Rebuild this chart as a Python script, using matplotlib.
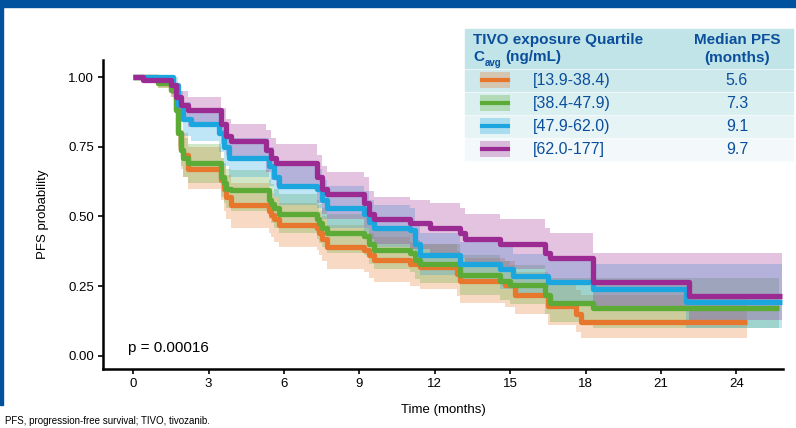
import matplotlib
matplotlib.use("Agg")
from matplotlib import pyplot as plt
from matplotlib.patches import Rectangle
from matplotlib.lines import Line2D

plt.rcParams['font.family'] = ['Liberation Sans', 'DejaVu Sans']

# quartile groups (time in months, PFS probability, 95% CI)
t_q1 = [0, 1.0, 1.5, 1.7, 1.8, 1.9, 2.0, 2.2, 3.5, 3.6, 3.7, 3.9, 5.4, 5.5, 5.6, 5.8, 7.3, 7.4, 7.5, 7.7,
        9.2, 9.4, 9.6, 11.0, 11.4, 12.9, 13.0, 14.8, 15.2, 16.5, 17.6, 17.8, 24.4]
s_q1 = [1.0, 0.98, 0.955, 0.88, 0.80, 0.74, 0.72, 0.67, 0.63, 0.60, 0.57, 0.54, 0.52, 0.505, 0.49, 0.47,
        0.46, 0.44, 0.42, 0.39, 0.38, 0.36, 0.345, 0.33, 0.32, 0.295, 0.27, 0.255, 0.22, 0.18, 0.15, 0.12, 0.12]
lo_q1 = [1.0, 0.96, 0.93, 0.84, 0.74, 0.67, 0.64, 0.60, 0.56, 0.52, 0.49, 0.46, 0.44, 0.425, 0.41, 0.39,
         0.38, 0.36, 0.34, 0.31, 0.30, 0.28, 0.265, 0.25, 0.24, 0.215, 0.19, 0.175, 0.15, 0.11, 0.085, 0.065,
         0.065]
hi_q1 = [1.0, 1.0, 0.98, 0.93, 0.87, 0.81, 0.80, 0.75, 0.71, 0.68, 0.65, 0.62, 0.60, 0.585, 0.57, 0.55,
         0.54, 0.52, 0.50, 0.47, 0.46, 0.44, 0.425, 0.41, 0.40, 0.375, 0.35, 0.34, 0.30, 0.26, 0.235, 0.22, 0.22]

t_q2 = [0, 1.0, 1.5, 1.7, 1.8, 1.9, 2.0, 2.2, 3.5, 3.6, 3.7, 3.9, 5.4, 5.5, 5.6, 5.8, 7.3, 7.4, 7.5, 7.7,
        9.2, 9.4, 9.6, 11.0, 11.2, 11.4, 13.0, 14.6, 15.0, 16.4, 16.6, 18.3, 25.7]
s_q2 = [1.0, 0.98, 0.955, 0.88, 0.80, 0.74, 0.71, 0.69, 0.64, 0.62, 0.60, 0.595, 0.56, 0.545, 0.53, 0.51,
        0.49, 0.475, 0.46, 0.44, 0.43, 0.40, 0.38, 0.37, 0.345, 0.33, 0.29, 0.27, 0.255, 0.22, 0.19, 0.17, 0.17]
lo_q2 = [1.0, 0.96, 0.93, 0.84, 0.75, 0.68, 0.64, 0.62, 0.57, 0.55, 0.53, 0.52, 0.49, 0.475, 0.46, 0.44,
         0.42, 0.405, 0.39, 0.37, 0.36, 0.33, 0.31, 0.30, 0.275, 0.26, 0.22, 0.20, 0.185, 0.15, 0.12, 0.10, 0.10]
hi_q2 = [1.0, 1.0, 0.98, 0.93, 0.86, 0.81, 0.78, 0.76, 0.71, 0.69, 0.67, 0.665, 0.63, 0.615, 0.60, 0.58,
         0.56, 0.545, 0.53, 0.51, 0.50, 0.47, 0.45, 0.44, 0.415, 0.40, 0.36, 0.34, 0.325, 0.29, 0.28, 0.28, 0.28]

t_q3 = [0, 1.6, 1.8, 2.0, 2.3, 3.4, 3.6, 3.8, 5.4, 5.6, 5.8, 7.3, 7.5, 7.7, 9.2, 9.4, 9.6, 11.0, 11.2, 11.4,
        13.0, 14.6, 15.1, 16.5, 18.3, 22.0, 25.8]
s_q3 = [1.0, 0.97, 0.90, 0.85, 0.83, 0.80, 0.75, 0.71, 0.68, 0.64, 0.61, 0.60, 0.56, 0.53, 0.51, 0.48, 0.46,
        0.45, 0.40, 0.36, 0.33, 0.31, 0.285, 0.265, 0.24, 0.195, 0.195]
lo_q3 = [1.0, 0.94, 0.85, 0.79, 0.77, 0.73, 0.68, 0.64, 0.61, 0.57, 0.54, 0.53, 0.49, 0.46, 0.44, 0.41, 0.39,
         0.38, 0.33, 0.29, 0.26, 0.24, 0.215, 0.19, 0.16, 0.10, 0.10]
hi_q3 = [1.0, 1.0, 0.95, 0.91, 0.89, 0.87, 0.82, 0.78, 0.75, 0.71, 0.68, 0.67, 0.63, 0.61, 0.59, 0.56, 0.54,
         0.53, 0.48, 0.44, 0.41, 0.39, 0.365, 0.35, 0.33, 0.33, 0.33]

t_q4 = [0, 0.4, 1.5, 1.7, 1.9, 2.2, 3.5, 3.7, 3.9, 5.3, 5.5, 5.7, 7.3, 7.5, 7.7, 9.2, 9.4, 9.6, 11.0, 11.8,
        13.0, 13.2, 14.6, 16.4, 16.6, 18.3, 22.1, 25.8]
s_q4 = [1.0, 0.99, 0.97, 0.93, 0.90, 0.88, 0.83, 0.79, 0.77, 0.74, 0.71, 0.69, 0.64, 0.60, 0.58, 0.55, 0.51,
        0.49, 0.475, 0.46, 0.44, 0.42, 0.40, 0.37, 0.35, 0.265, 0.215, 0.215]
lo_q4 = [1.0, 0.98, 0.94, 0.88, 0.84, 0.82, 0.76, 0.72, 0.70, 0.66, 0.63, 0.61, 0.55, 0.51, 0.49, 0.46, 0.42,
         0.40, 0.385, 0.37, 0.35, 0.33, 0.31, 0.28, 0.26, 0.18, 0.13, 0.13]
hi_q4 = [1.0, 1.0, 0.99, 0.97, 0.95, 0.93, 0.89, 0.85, 0.83, 0.81, 0.78, 0.76, 0.72, 0.68, 0.66, 0.64, 0.59,
         0.57, 0.56, 0.55, 0.53, 0.51, 0.49, 0.46, 0.44, 0.37, 0.37, 0.37]

quartiles = ['[13.9-38.4)', '[38.4-47.9)', '[47.9-62.0)', '[62.0-177]']
medians = ['5.6', '7.3', '9.1', '9.7']
colors = ['#e8772e', '#5bab36', '#1ca6df', '#9b2a92']

groups = [(t_q1, s_q1, lo_q1, hi_q1), (t_q2, s_q2, lo_q2, hi_q2),
          (t_q3, s_q3, lo_q3, hi_q3), (t_q4, s_q4, lo_q4, hi_q4)]

W, H = 796, 428
fig = plt.figure(figsize=(W / 100, H / 100), dpi=100)


def fx(px):
    return px / W


def fy(py):
    return 1 - py / H


# blue frame
fig.patches.append(Rectangle((0, fy(7)), 1, 7 / H, transform=fig.transFigure, color='#00529f', zorder=0))
fig.patches.append(Rectangle((0, fy(405)), fx(3), fy(7) - fy(405), transform=fig.transFigure,
                             color='#00529f', zorder=0))

ax = fig.add_axes([fx(103), fy(369), fx(783) - fx(103), fy(60) - fy(369)])
for (t, s, lo, hi), c in zip(groups, colors):
    ax.fill_between(t, lo, hi, step='post', color=c, alpha=0.28, lw=0)
for (t, s, lo, hi), c in zip(groups, colors):
    ax.step(t, s, where='post', color=c, lw=3.8, solid_joinstyle='round', solid_capstyle='butt')

ax.set_xlim(-1.2, 25.85)
ax.set_ylim(-0.047, 1.061)
ax.set_xticks(range(0, 25, 3))
ax.set_yticks([0, 0.25, 0.5, 0.75, 1.0])
ax.set_yticklabels(['0.00', '0.25', '0.50', '0.75', '1.00'])
for side in ['top', 'right']:
    ax.spines[side].set_visible(False)
for side in ['left', 'bottom']:
    ax.spines[side].set_linewidth(1.8)
ax.tick_params(length=3.5, width=1.2, labelsize=9.5, pad=3)
ax.set_xlabel('Time (months)', fontsize=9.5, labelpad=10)
ax.set_ylabel('PFS probability', fontsize=9.5, labelpad=14)
ax.text(-0.2, 0.015, 'p = 0.00016', fontsize=11)

# legend table
tc = '#0b4f9c'
fig.patches.append(Rectangle((fx(465), fy(68)), fx(793) - fx(465), fy(29) - fy(68),
                             transform=fig.transFigure, color='#c0e4e7', zorder=1))
row_bg = ['#cde9eb', '#d9eff0', '#e6f4f5', '#f3f9fa']
row_top = [70, 93, 116, 139]
for i in range(4):
    y0 = row_top[i]
    fig.patches.append(Rectangle((fx(465), fy(y0 + 21)), fx(793) - fx(465), 21 / H,
                                 transform=fig.transFigure, color=row_bg[i], zorder=1))
    fig.patches.append(Rectangle((fx(480), fy(y0 + 18)), 30 / W, 16 / H, transform=fig.transFigure,
                                 color=colors[i], alpha=0.3, lw=0, zorder=2))
    fig.lines.append(Line2D([fx(482), fx(508)], [fy(y0 + 10)] * 2, transform=fig.transFigure,
                            color=colors[i], lw=3, zorder=3))
    fig.text(fx(533), fy(y0 + 10.5), quartiles[i], fontsize=11.5, color=tc, va='center', ha='left')
    fig.text(fx(737), fy(y0 + 10.5), medians[i], fontsize=11.5, color=tc, va='center', ha='center')

fig.text(fx(473), fy(40), 'TIVO exposure Quartile', fontsize=11, color=tc, weight='bold', va='center')
fig.text(fx(473), fy(57), 'C', fontsize=11, color=tc, weight='bold', va='center')
fig.text(fx(485), fy(63), 'avg', fontsize=7, color=tc, weight='bold', va='center')
fig.text(fx(505), fy(57), '(ng/mL)', fontsize=11, color=tc, weight='bold', va='center')
fig.text(fx(737), fy(40), 'Median PFS', fontsize=11, color=tc, weight='bold', va='center', ha='center')
fig.text(fx(737), fy(58), '(months)', fontsize=11, color=tc, weight='bold', va='center', ha='center')

fig.text(fx(5), fy(421), 'PFS, progression-free survival; TIVO, tivozanib.', fontsize=7, va='center')

plt.savefig('out.png', dpi=100)
